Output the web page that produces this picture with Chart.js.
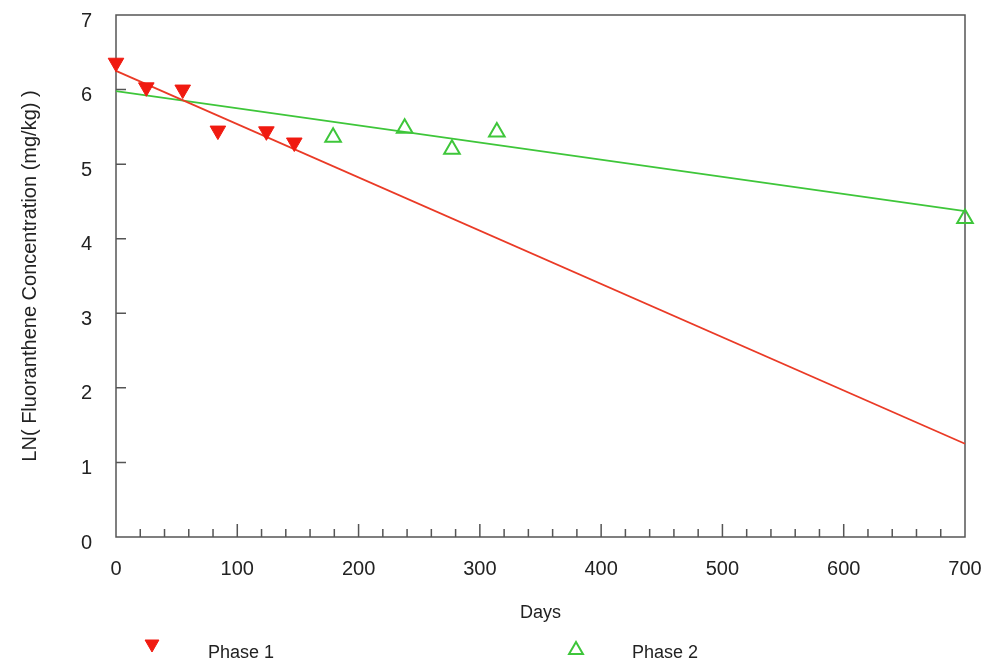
<!DOCTYPE html>
<html>
<head>
<meta charset="utf-8">
<script src="https://cdn.jsdelivr.net/npm/chart.js@4"></script>
<style>
  body { margin: 0; background: #fff; }
  #wrap { width: 989px; height: 667px; }
</style>
</head>
<body>
<div id="wrap"><canvas id="fluorChart" width="989" height="667"></canvas></div>
<script>
// Phase 1 measurements (days, LN conc.)
const phase1Days = [0, 25, 55, 84, 124, 147];
const phase1Ln = [6.36, 6.03, 6.0, 5.45, 5.44, 5.29];

// Phase 2 measurements
const phase2Days = [179, 238, 277, 314, 700];
const phase2Ln = [5.36, 5.48, 5.2, 5.43, 4.27];

// regression lines, drawn between their end points
const fitDays = [0, 700];
const fit1Ln = [6.25, 1.25];
const fit2Ln = [5.98, 4.37];

const xTicks = [0, 100, 200, 300, 400, 500, 600, 700];
const yTicks = [0, 1, 2, 3, 4, 5, 6, 7];

const RED = "#f01a10";
const RED_LINE = "#ea3a26";
const GREEN = "#3ec63a";

const pts = (xs, ys) => xs.map((d, i) => ({ x: d, y: ys[i] }));

Chart.defaults.font.family = "'Liberation Sans', Arial, sans-serif";
Chart.defaults.color = "#222";

// box round the plot + inward tick marks
const frameTicks = {
  id: "frameTicks",
  beforeDatasetsDraw(chart) {
    const { ctx, chartArea: a, scales: { x, y } } = chart;
    ctx.save();
    ctx.strokeStyle = "#555";
    ctx.lineWidth = 1.5;
    ctx.strokeRect(a.left, a.top, a.right - a.left, a.bottom - a.top);
    ctx.beginPath();
    for (let d = 20; d < xTicks[xTicks.length - 1]; d += 20) {
      const px = x.getPixelForValue(d);
      const len = d % 100 === 0 ? 13 : 8;
      ctx.moveTo(px, a.bottom);
      ctx.lineTo(px, a.bottom - len);
    }
    yTicks.slice(1, -1).forEach((v) => {
      const py = y.getPixelForValue(v);
      ctx.moveTo(a.left, py);
      ctx.lineTo(a.left + 10, py);
    });
    ctx.stroke();
    ctx.restore();
  },
};

// legend under the x title
const bottomLegend = {
  id: "bottomLegend",
  afterDraw(chart) {
    const ctx = chart.ctx;
    ctx.save();
    ctx.fillStyle = RED;
    ctx.strokeStyle = RED;
    Chart.helpers.drawPoint(ctx, { pointStyle: "triangle", radius: 8, rotation: 180, borderWidth: 1 }, 152, 644);
    ctx.restore();

    ctx.save();
    ctx.strokeStyle = GREEN;
    ctx.fillStyle = "rgba(0,0,0,0)";
    ctx.lineWidth = 2;
    Chart.helpers.drawPoint(ctx, { pointStyle: "triangle", radius: 8, rotation: 0, borderWidth: 2 }, 576, 650);
    ctx.restore();

    ctx.save();
    ctx.fillStyle = "#222";
    ctx.font = "18px 'Liberation Sans', Arial, sans-serif";
    ctx.textBaseline = "middle";
    ctx.fillText("Phase 1", 208, 653);
    ctx.fillText("Phase 2", 632, 653);
    ctx.restore();
  },
};

const noPad = (s) => {
  s.paddingTop = 0;
  s.paddingBottom = 0;
  s.paddingLeft = 0;
  s.paddingRight = 0;
};

new Chart(document.querySelector("#fluorChart"), {
  type: "scatter",
  data: {
    datasets: [
      {
        label: "Phase 1",
        data: pts(phase1Days, phase1Ln),
        pointStyle: "triangle",
        rotation: 180,
        pointRadius: 9,
        backgroundColor: RED,
        borderColor: RED,
        borderWidth: 1,
        clip: false,
        order: 0,
      },
      {
        label: "Phase 2",
        data: pts(phase2Days, phase2Ln),
        pointStyle: "triangle",
        pointRadius: 9,
        backgroundColor: "rgba(0,0,0,0)",
        borderColor: GREEN,
        borderWidth: 2,
        clip: false,
        order: 0,
      },
      {
        label: "fit 1",
        data: pts(fitDays, fit1Ln),
        showLine: true,
        pointRadius: 0,
        borderColor: RED_LINE,
        borderWidth: 1.8,
        clip: false,
        order: 1,
      },
      {
        label: "fit 2",
        data: pts(fitDays, fit2Ln),
        showLine: true,
        pointRadius: 0,
        borderColor: GREEN,
        borderWidth: 1.8,
        clip: false,
        order: 1,
      },
    ],
  },
  options: {
    responsive: false,
    animation: false,
    layout: { padding: { top: 15, right: 24, left: 0, bottom: 0 } },
    plugins: {
      legend: { display: false },
      tooltip: { enabled: false },
    },
    scales: {
      x: {
        type: "linear",
        min: xTicks[0],
        max: xTicks[xTicks.length - 1],
        afterBuildTicks: (s) => { s.ticks = xTicks.map((v) => ({ value: v })); },
        afterFit: (s) => { s.height = 130; noPad(s); },
        grid: { display: false, drawTicks: false },
        border: { display: false },
        ticks: { padding: 20, font: { size: 20 }, color: "#222" },
        title: {
          display: true,
          text: "Days",
          font: { size: 18 },
          color: "#222",
          padding: { top: 0, bottom: 43 },
        },
      },
      y: {
        type: "linear",
        min: yTicks[0],
        max: yTicks[yTicks.length - 1],
        afterBuildTicks: (s) => { s.ticks = yTicks.map((v) => ({ value: v })); },
        afterFit: (s) => { s.width = 116; noPad(s); },
        grid: { display: false, drawTicks: false },
        border: { display: false },
        ticks: { padding: 24, labelOffset: 6, font: { size: 20 }, color: "#222" },
        title: {
          display: true,
          text: "LN( Fluoranthene Concentration (mg/kg) )",
          font: { size: 20 },
          color: "#222",
          padding: { top: 18, bottom: 0 },
        },
      },
    },
  },
  plugins: [frameTicks, bottomLegend],
});
</script>
</body>
</html>
